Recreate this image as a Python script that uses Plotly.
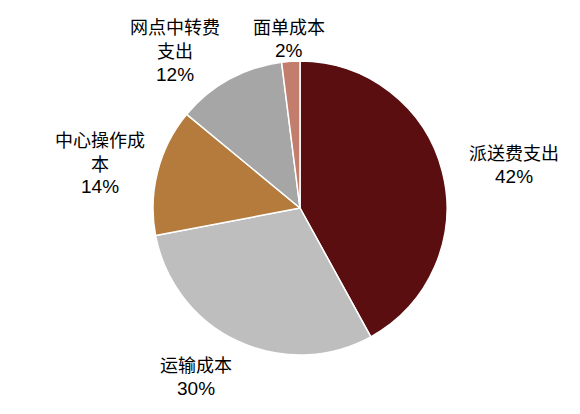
import plotly.graph_objects as go

categories = ["派送费支出", "运输成本", "中心操作成本", "网点中转费支出", "面单成本"]
values = [42, 30, 14, 12, 2]
label_lines = [["派送费支出"], ["运输成本"], ["中心操作成", "本"], ["网点中转费", "支出"], ["面单成本"]]
colors = ["#5a0e0f", "#bebebe", "#b47b3c", "#a6a6a6", "#c27d6d"]

W, H = 580, 414
# label anchor (x centre, y of first line) in pixels, layout only
label_pos = [(506, 144), (188, 356), (92, 131), (167, 18), (281, 18)]
line_gap = 24

fig = go.Figure(go.Pie(
    labels=categories,
    values=values,
    sort=False,
    direction="clockwise",
    rotation=0,
    marker=dict(colors=colors, line=dict(color="white", width=1.5)),
    textinfo="none",
    hoverinfo="label+percent",
    showlegend=False,
    domain=dict(x=[145 / W, 439 / W], y=[1 - 347 / H, 1 - 53 / H]),
))

for lines, v, (px, py) in zip(label_lines, values, label_pos):
    rows = [(t, "Noto Sans CJK SC", 18) for t in lines] + [(f"{v}%", "Liberation Sans", 19)]
    for i, (t, fam, sz) in enumerate(rows):
        fig.add_annotation(
            x=px / W, y=1 - (py + i * line_gap) / H, xref="paper", yref="paper",
            text=t, showarrow=False,
            xanchor="center", yanchor="middle", align="center",
            font=dict(family=fam, size=sz, color="#000000"),
        )

fig.update_layout(
    width=W, height=H,
    margin=dict(l=0, r=0, t=0, b=0),
    paper_bgcolor="white",
    plot_bgcolor="white",
)

fig.write_html("out.html", config={"displayModeBar": False})
